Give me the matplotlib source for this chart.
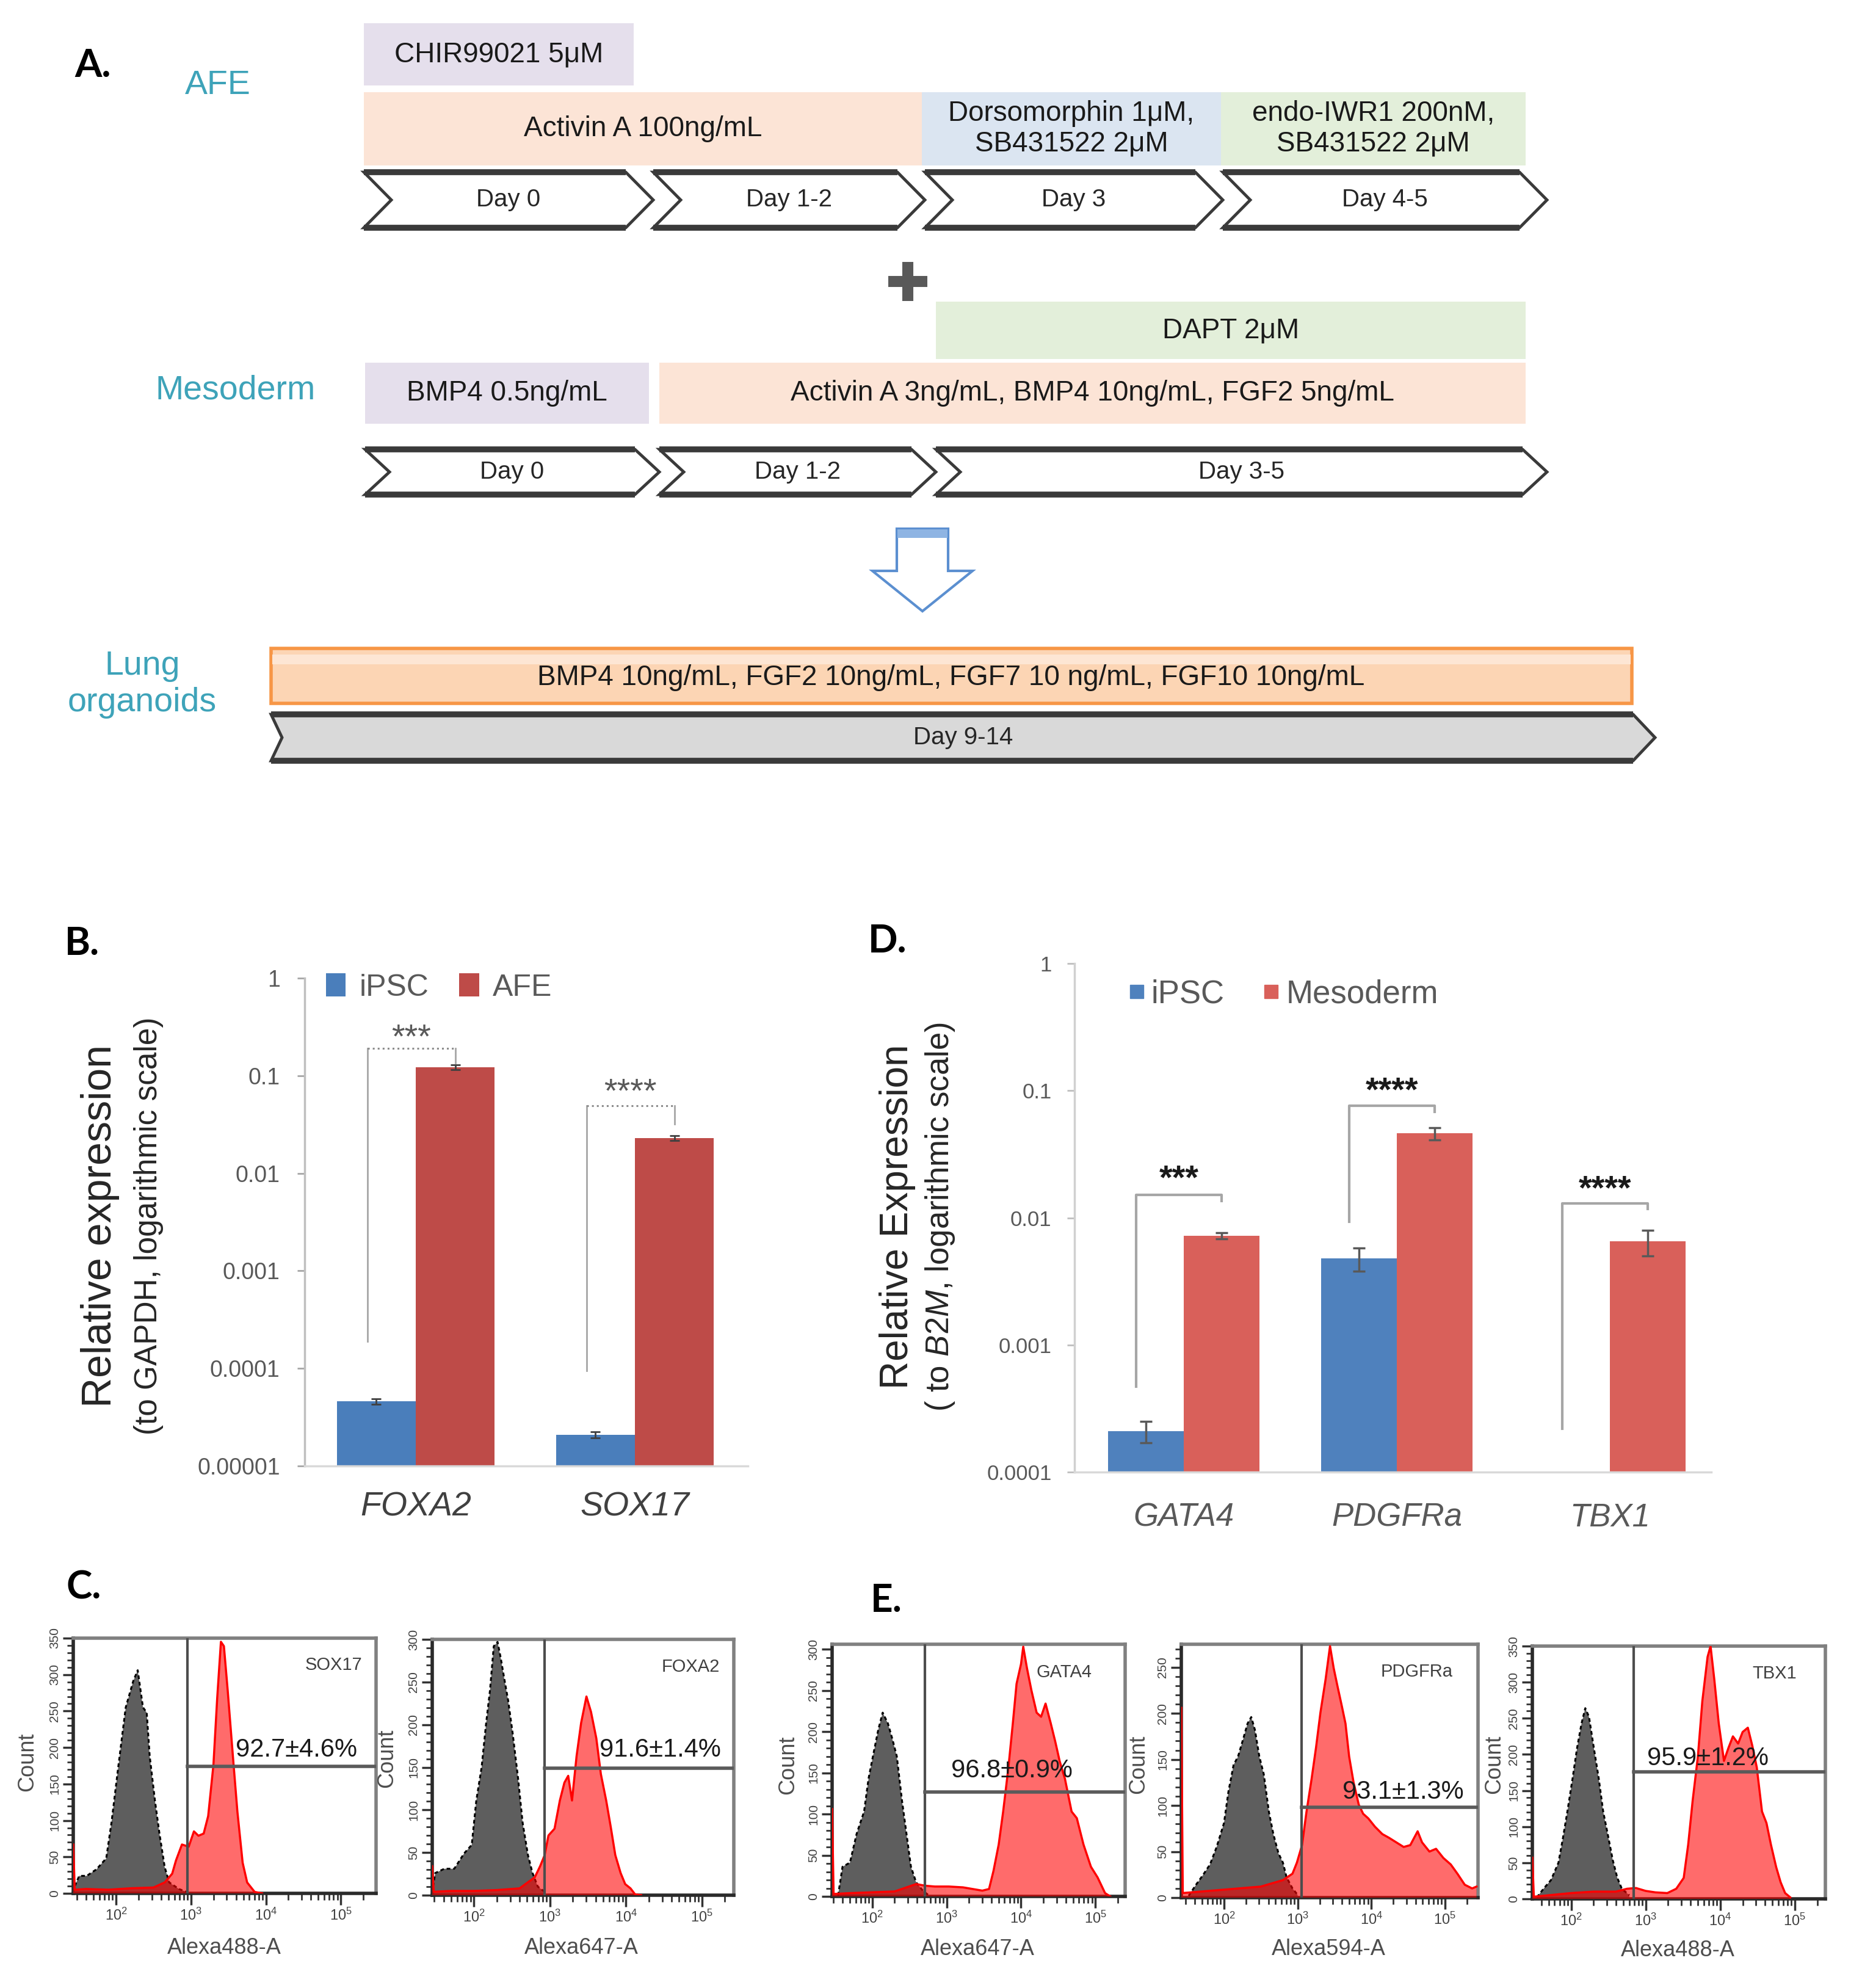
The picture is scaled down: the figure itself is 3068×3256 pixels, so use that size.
import numpy as np
import matplotlib

matplotlib.use("Agg")
import matplotlib.pyplot as plt
from matplotlib.patches import Polygon, Rectangle, Patch
from matplotlib.lines import Line2D
from matplotlib.ticker import LogLocator, NullFormatter, NullLocator, MultipleLocator, FixedLocator

plt.rcParams["font.family"] = ["Liberation Sans", "DejaVu Sans"]
plt.rcParams["mathtext.fontset"] = "custom"
plt.rcParams["mathtext.rm"] = "Liberation Sans"
plt.rcParams["mathtext.it"] = "Liberation Sans:italic"
plt.rcParams["mathtext.bf"] = "Liberation Sans:bold"

W, H = 3068, 3256

# ---------------- panel B: qPCR, AFE ----------------
b_genes = ["FOXA2", "SOX17"]
b_ipsc = [4.6e-5, 2.1e-5]
b_ipsc_err = [0.3e-5, 0.15e-5]
b_afe = [0.122, 0.023]
b_afe_err = [0.007, 0.0012]
b_stars = ["***", "****"]
b_star_y = [0.24, 0.066]
b_bracket_low = [1.9e-4, 9.4e-5]
b_bracket_top = [0.19, 0.049]
b_bracket_end = [0.135, 0.032]

# ---------------- panel D: qPCR, mesoderm ----------------
d_genes = ["GATA4", "PDGFRa", "TBX1"]
d_ipsc = [2.1e-4, 4.8e-3, np.nan]
d_ipsc_err = [0.4e-4, 1.0e-3, np.nan]
d_meso = [7.2e-3, 4.6e-2, 6.5e-3]
d_meso_err = [0.4e-3, 0.5e-2, 1.5e-3]
d_stars = ["***", "****", "****"]
d_star_y = [0.020, 0.098, 0.0165]
d_bracket_low = [4.7e-4, 9.3e-3, 2.2e-4]
d_bracket_top = [0.0152, 0.076, 0.013]
d_bracket_end = [0.0136, 0.068, 0.0117]

# ---------------- panels C/E: flow histograms (log10 intensity, count) ----------------
sox17_ctrl_x = [1.45, 1.51, 1.61, 1.74, 1.87, 1.94, 2.03, 2.13, 2.23, 2.29, 2.36, 2.41, 2.45, 2.52, 2.58, 2.65, 2.71, 2.84, 2.94]
sox17_ctrl_y = [10, 24, 24, 33, 48, 97, 173, 255, 291, 306, 255, 248, 188, 127, 82, 36, 15, 6, 2]
sox17_pos_x = [1.43, 1.45, 1.60, 1.90, 2.20, 2.50, 2.65, 2.75, 2.80, 2.88, 2.97, 3.04, 3.10, 3.17, 3.23, 3.30, 3.35, 3.40, 3.44, 3.49, 3.56, 3.62, 3.69, 3.75, 3.85, 3.95]
sox17_pos_y = [67, 5, 6, 5, 7, 8, 15, 27, 45, 67, 64, 85, 79, 82, 106, 176, 267, 345, 339, 279, 188, 112, 42, 15, 2, 0]

foxa2_ctrl_x = [1.46, 1.49, 1.61, 1.74, 1.87, 1.97, 2.03, 2.10, 2.16, 2.21, 2.26, 2.31, 2.35, 2.40, 2.45, 2.51, 2.58, 2.64, 2.71, 2.77, 2.84, 2.93]
foxa2_ctrl_y = [10, 26, 31, 31, 49, 59, 111, 150, 202, 240, 292, 297, 279, 253, 228, 189, 137, 85, 47, 26, 10, 4]
foxa2_pos_x = [1.45, 1.47, 1.70, 2.00, 2.30, 2.60, 2.80, 2.87, 2.93, 2.98, 3.06, 3.13, 3.19, 3.24, 3.29, 3.35, 3.41, 3.48, 3.54, 3.61, 3.67, 3.74, 3.80, 3.86, 3.93, 3.99, 4.06, 4.12, 4.20]
foxa2_pos_y = [34, 4, 5, 5, 6, 8, 21, 34, 47, 70, 78, 111, 132, 140, 111, 163, 202, 233, 215, 184, 142, 111, 80, 47, 26, 13, 8, 1, 0]

gata4_ctrl_x = [1.54, 1.60, 1.70, 1.79, 1.89, 1.95, 2.02, 2.08, 2.14, 2.21, 2.27, 2.33, 2.40, 2.46, 2.52, 2.59, 2.68, 2.75]
gata4_ctrl_y = [1, 36, 41, 76, 103, 143, 175, 202, 223, 210, 191, 170, 116, 76, 36, 17, 7, 2]
gata4_pos_x = [1.46, 1.48, 1.70, 2.00, 2.30, 2.59, 2.71, 2.84, 3.03, 3.22, 3.48, 3.57, 3.63, 3.70, 3.76, 3.83, 3.89, 3.94, 4.00, 4.03, 4.08, 4.14, 4.21, 4.27, 4.33, 4.40, 4.46, 4.52, 4.59, 4.68, 4.75, 4.84, 4.94, 5.03, 5.13, 5.20]
gata4_pos_y = [106, 3, 4, 5, 6, 15, 13, 12, 12, 11, 7, 9, 31, 63, 103, 156, 210, 258, 282, 303, 277, 250, 223, 218, 234, 210, 188, 164, 143, 103, 95, 63, 36, 23, 4, 0]

pdgfra_ctrl_x = [1.52, 1.62, 1.71, 1.81, 1.90, 2.00, 2.06, 2.13, 2.19, 2.26, 2.32, 2.37, 2.42, 2.48, 2.54, 2.61, 2.67, 2.74, 2.80, 2.85, 2.93, 3.00]
pdgfra_ctrl_y = [2, 14, 24, 36, 55, 81, 115, 144, 153, 172, 189, 196, 182, 153, 134, 93, 69, 48, 38, 22, 10, 3]
pdgfra_pos_x = [1.42, 1.44, 1.60, 1.90, 2.20, 2.50, 2.80, 2.93, 2.99, 3.06, 3.12, 3.19, 3.25, 3.31, 3.38, 3.44, 3.49, 3.54, 3.60, 3.65, 3.70, 3.76, 3.83, 3.89, 3.96, 4.05, 4.15, 4.24, 4.34, 4.44, 4.53, 4.63, 4.69, 4.79, 4.88, 4.98, 5.08, 5.17, 5.27, 5.37, 5.43]
pdgfra_pos_y = [206, 5, 6, 8, 10, 12, 19, 26, 38, 57, 93, 129, 163, 201, 237, 273, 249, 230, 208, 189, 153, 125, 101, 91, 86, 77, 69, 65, 60, 55, 57, 72, 60, 50, 53, 43, 36, 26, 14, 10, 12]

tbx1_ctrl_x = [1.54, 1.63, 1.73, 1.83, 1.89, 1.95, 2.02, 2.08, 2.14, 2.19, 2.24, 2.30, 2.37, 2.43, 2.49, 2.56, 2.62, 2.68, 2.78]
tbx1_ctrl_y = [2, 14, 26, 50, 84, 121, 167, 209, 243, 264, 252, 212, 167, 121, 90, 53, 29, 14, 5]
tbx1_pos_x = [1.48, 1.50, 1.70, 2.00, 2.30, 2.60, 2.75, 2.87, 3.00, 3.13, 3.29, 3.41, 3.51, 3.57, 3.63, 3.70, 3.76, 3.83, 3.87, 3.92, 3.98, 4.05, 4.11, 4.17, 4.24, 4.30, 4.37, 4.43, 4.49, 4.56, 4.62, 4.68, 4.75, 4.81, 4.87, 4.94]
tbx1_pos_y = [57, 3, 5, 8, 10, 10, 14, 15, 11, 9, 8, 14, 29, 75, 136, 197, 274, 335, 350, 304, 243, 191, 209, 225, 215, 231, 237, 212, 182, 121, 105, 75, 44, 23, 8, 2]

# marker, channel, percentage, gate (log10), horizontal gate (count), xlim (log10), ymax
flow_markers = ["SOX17", "FOXA2", "GATA4", "PDGFRa", "TBX1"]
flow_channels = ["Alexa488-A", "Alexa647-A", "Alexa647-A", "Alexa594-A", "Alexa488-A"]
flow_percent = ["92.7±4.6%", "91.6±1.4%", "96.8±0.9%", "93.1±1.3%", "95.9±1.2%"]
flow_gate_x = [2.95, 2.93, 2.71, 3.05, 2.84]
flow_gate_y = [174, 149, 127, 98, 176]
flow_xlim = [(1.43, 5.47), (1.45, 5.42), (1.46, 5.40), (1.42, 5.45), (1.48, 5.41)]
flow_ymax = [350, 300, 306, 275, 350]
flow_ctrl = [(sox17_ctrl_x, sox17_ctrl_y), (foxa2_ctrl_x, foxa2_ctrl_y), (gata4_ctrl_x, gata4_ctrl_y),
             (pdgfra_ctrl_x, pdgfra_ctrl_y), (tbx1_ctrl_x, tbx1_ctrl_y)]
flow_pos = [(sox17_pos_x, sox17_pos_y), (foxa2_pos_x, foxa2_pos_y), (gata4_pos_x, gata4_pos_y),
            (pdgfra_pos_x, pdgfra_pos_y), (tbx1_pos_x, tbx1_pos_y)]

# pixel layout of the flow boxes (left, top, right, bottom) and text anchors
flow_boxes = [(120, 2683, 616, 3101), (708, 2685, 1202, 3104), (1363, 2693, 1843, 3106),
              (1935, 2693, 2421, 3108), (2510, 2696, 2990, 3110)]
flow_marker_xy = [(547, 2727), (1131, 2730), (1743, 2739), (2321, 2738), (2907, 2741)]
flow_pct_xy = [(485, 2866), (1081, 2866), (1657, 2900), (2298, 2935), (2797, 2880)]
flow_chan_xy = [(367, 3190), (952, 3190), (1601, 3192), (2176, 3192), (2748, 3194)]
flow_count_xy = [(45, 2886), (634, 2880), (1291, 2891), (1865, 2890), (2448, 2890)]

BLUE_B, RED_B = "#4a7ebb", "#be4b48"
BLUE_D, RED_D = "#4f81bd", "#d9605a"
TEAL = "#3ea3b9"
LAVENDER, PEACH, LBLUE, LGREEN = "#e5dfec", "#fce4d6", "#dbe5f1", "#e3efda"


def fig_rect(left, top, right, bottom):
    return [left / W, 1 - bottom / H, (right - left) / W, (bottom - top) / H]


def frac(box, x, y):
    left, top, right, bottom = box
    return (x - left) / (right - left), (bottom - y) / (bottom - top)


fig = plt.figure(figsize=(W / 100, H / 100), dpi=100)

# ---------------- overlay for the schematic (pixel coordinates) ----------------
ax0 = fig.add_axes([0, 0, 1, 1])
ax0.set_xlim(0, W)
ax0.set_ylim(H, 0)
ax0.axis("off")


def box(x0, x1, y0, y1, color, label, fs=33):
    ax0.add_patch(Rectangle((x0, y0), x1 - x0, y1 - y0, facecolor=color, edgecolor="none"))
    ax0.text((x0 + x1) / 2, (y0 + y1) / 2, label, ha="center", va="center",
             fontsize=fs, color="#1a1a1a", linespacing=1.15)


def chevron(x0, x1, y0, y1, label, d_left=45, d_right=45, face="white", fs=29):
    ym = (y0 + y1) / 2
    pts = [(x0, y0), (x1 - d_right, y0), (x1, ym), (x1 - d_right, y1), (x0, y1), (x0 + d_left, ym)]
    ax0.add_patch(Polygon(pts, closed=True, facecolor=face, edgecolor="#3a3a3a",
                          linewidth=3.5, joinstyle="miter"))
    ax0.plot([x0, x1 - d_right], [y0, y0], color="#3a3a3a", lw=7, solid_capstyle="butt")
    ax0.plot([x0, x1 - d_right], [y1, y1], color="#3a3a3a", lw=7, solid_capstyle="butt")
    ax0.text((x0 + x1) / 2, ym, label, ha="center", va="center", fontsize=fs, color="#262626")


panel_font = dict(family=["Lato", "DejaVu Sans"], fontweight="bold", fontsize=46, ha="center", va="center")
ax0.text(152, 107, "A.", **panel_font)
ax0.text(134, 1546, "B.", **panel_font)
ax0.text(137, 2600, "C.", **panel_font)
ax0.text(1454, 1541, "D.", **panel_font)
ax0.text(1452, 2621, "E.", **panel_font)

ax0.text(357, 140, "AFE", color=TEAL, fontsize=40, ha="center", va="center")
ax0.text(386, 640, "Mesoderm", color=TEAL, fontsize=40, ha="center", va="center")
ax0.text(233, 1121, "Lung\norganoids", color=TEAL, fontsize=40, ha="center", va="center", linespacing=1.2)

box(596, 1038, 38, 140, LAVENDER, "CHIR99021 5μM")
box(596, 1510, 151, 271, PEACH, "Activin A 100ng/mL")
box(1510, 2000, 151, 271, LBLUE, "Dorsomorphin 1μM,\nSB431522 2μM")
box(2000, 2499, 151, 271, LGREEN, "endo-IWR1 200nM,\nSB431522 2μM")
for (x0, x1), lab in zip([(596, 1070), (1070, 1515), (1515, 2003), (2003, 2534)],
                         ["Day 0", "Day 1-2", "Day 3", "Day 4-5"]):
    chevron(x0, x1, 282, 373, lab)

ax0.plot([1455, 1519], [461, 461], color="#595959", lw=13, solid_capstyle="butt")
ax0.plot([1487, 1487], [429, 493], color="#595959", lw=13, solid_capstyle="butt")

box(1533, 2499, 494, 588, LGREEN, "DAPT 2μM")
box(598, 1063, 594, 694, LAVENDER, "BMP4 0.5ng/mL")
box(1080, 2499, 594, 694, PEACH, "Activin A 3ng/mL, BMP4 10ng/mL, FGF2 5ng/mL")
for (x0, x1), lab in zip([(598, 1080), (1080, 1533), (1533, 2534)], ["Day 0", "Day 1-2", "Day 3-5"]):
    chevron(x0, x1, 736, 810, lab, d_left=40, d_right=40)

arrow_pts = [(1469, 866), (1553, 866), (1553, 935), (1593, 935), (1511, 1001), (1429, 935), (1469, 935)]
ax0.add_patch(Polygon(arrow_pts, closed=True, facecolor="white", edgecolor="#5b8fd0", linewidth=3))
ax0.add_patch(Rectangle((1470, 867), 82, 14, facecolor="#8eb4e3", edgecolor="none"))

ax0.add_patch(Rectangle((444, 1062), 2229, 90, facecolor="#fcd5b4", edgecolor="#f79646", linewidth=4))
ax0.add_patch(Rectangle((446, 1072), 2225, 16, facecolor="#fde6d4", edgecolor="none"))
ax0.text(1558, 1110, "BMP4 10ng/mL, FGF2 10ng/mL, FGF7 10 ng/mL, FGF10 10ng/mL",
         ha="center", va="center", fontsize=33, color="#1a1a1a")
chevron(444, 2711, 1170, 1246, "Day 9-14", d_left=18, d_right=36, face="#d9d9d9")

# ---------------- panel B ----------------
axB = fig.add_axes(fig_rect(499, 1602, 1225, 2401))
xb = np.arange(len(b_genes))
wb = 0.36
axB.bar(xb - wb / 2, b_ipsc, wb, color=BLUE_B, yerr=b_ipsc_err,
        error_kw=dict(ecolor="#404040", elinewidth=2, capsize=6, capthick=2))
axB.bar(xb + wb / 2, b_afe, wb, color=RED_B, yerr=b_afe_err,
        error_kw=dict(ecolor="#404040", elinewidth=2, capsize=6, capthick=2))
axB.set_yscale("log")
axB.set_ylim(1e-5, 1)
axB.set_xlim(-0.507, 1.515)
b_ticks = [1e-5, 1e-4, 1e-3, 1e-2, 1e-1, 1]
axB.yaxis.set_major_locator(FixedLocator(b_ticks))
axB.yaxis.set_minor_locator(NullLocator())
axB.set_yticklabels(["0.00001", "0.0001", "0.001", "0.01", "0.1", "1"])
axB.tick_params(axis="y", length=9, width=2, color="#a6a6a6", labelsize=27, labelcolor="#595959", pad=20)
axB.set_xticks(xb)
axB.set_xticklabels(b_genes, fontstyle="italic", fontsize=40, color="#404040")
axB.tick_params(axis="x", length=0, pad=30)
for s in ["top", "right"]:
    axB.spines[s].set_visible(False)
axB.spines["left"].set_color("#bfbfbf")
axB.spines["bottom"].set_color("#d9d9d9")
axB.spines["left"].set_linewidth(2.5)
axB.spines["bottom"].set_linewidth(2.5)
for i in range(len(b_genes)):
    xl, xr = i - 0.22, i + wb / 2
    axB.plot([xl, xl], [b_bracket_low[i], b_bracket_top[i]], color="#a6a6a6", lw=2)
    axB.plot([xl, xr], [b_bracket_top[i], b_bracket_top[i]], color="#8c8c8c", lw=2.2, ls=":")
    axB.plot([xr, xr], [b_bracket_top[i], b_bracket_end[i]], color="#a6a6a6", lw=2)
    axB.text((xl + xr) / 2, b_star_y[i], b_stars[i], ha="center", va="center",
             fontsize=40, color="#595959")
axB.legend([Patch(facecolor=BLUE_B), Patch(facecolor=RED_B)], ["iPSC", "AFE"],
           loc="upper left", bbox_to_anchor=(0.02, 1.035), ncol=2, frameon=False, fontsize=36,
           handlelength=0.65, handleheight=0.8, handletextpad=0.45, columnspacing=1.0,
           borderaxespad=0, labelcolor="#595959")
ax0.text(164, 2008, "Relative expression", rotation=90, ha="center", va="center", fontsize=49, color="#262626")
ax0.text(243, 2008, "(to GAPDH, logarithmic scale)", rotation=90, ha="center", va="center",
         fontsize=37, color="#262626")

# ---------------- panel D ----------------
axD = fig.add_axes(fig_rect(1760, 1578, 2803, 2411))
xd = np.arange(len(d_genes))
wd = 0.355
ipsc_ok = ~np.isnan(np.array(d_ipsc))
axD.bar(xd[ipsc_ok] - wd / 2, np.array(d_ipsc)[ipsc_ok], wd, color=BLUE_D,
        yerr=np.array(d_ipsc_err)[ipsc_ok],
        error_kw=dict(ecolor="#595959", elinewidth=2.5, capsize=7, capthick=2.5))
axD.bar(xd + wd / 2, d_meso, wd, color=RED_D, yerr=d_meso_err,
        error_kw=dict(ecolor="#595959", elinewidth=2.5, capsize=7, capthick=2.5))
axD.set_yscale("log")
axD.set_ylim(1e-4, 1)
axD.set_xlim(-0.513, 2.476)
d_ticks = [1e-4, 1e-3, 1e-2, 1e-1, 1]
axD.yaxis.set_major_locator(FixedLocator(d_ticks))
axD.yaxis.set_minor_locator(NullLocator())
axD.set_yticklabels(["0.0001", "0.001", "0.01", "0.1", "1"])
axD.tick_params(axis="y", length=9, width=2, color="#bfbfbf", labelsize=25, labelcolor="#595959", pad=18)
axD.set_xticks(xd)
axD.set_xticklabels(d_genes, fontstyle="italic", fontsize=38, color="#595959")
axD.tick_params(axis="x", length=0, pad=36)
for s in ["top", "right"]:
    axD.spines[s].set_visible(False)
axD.spines["left"].set_color("#d0d0d0")
axD.spines["bottom"].set_color("#d9d9d9")
axD.spines["left"].set_linewidth(2.5)
axD.spines["bottom"].set_linewidth(2.5)
for i in range(len(d_genes)):
    xl, xr = i - 0.224, i + wd / 2
    axD.plot([xl, xl, xr, xr], [d_bracket_low[i], d_bracket_top[i], d_bracket_top[i], d_bracket_end[i]],
             color="#a6a6a6", lw=3)
    axD.text((xl + xr) / 2, d_star_y[i], d_stars[i], ha="center", va="center",
             fontsize=40, fontweight="bold", color="#1a1a1a")
axD.legend([Line2D([], [], marker="s", ls="none", color=BLUE_D, markersize=16),
            Line2D([], [], marker="s", ls="none", color=RED_D, markersize=16)],
           ["iPSC", "Mesoderm"], loc="upper left", bbox_to_anchor=(0.065, 0.995), ncol=2,
           frameon=False, fontsize=38, handlelength=0.5, handletextpad=0.2, columnspacing=1.2,
           borderaxespad=0, labelcolor="#595959")
ax0.text(1470, 1993, "Relative Expression", rotation=90, ha="center", va="center", fontsize=46, color="#262626")
ax0.text(1540, 1993, r"( to $\mathit{B2M}$, logarithmic scale)", rotation=90, ha="center", va="center",
         fontsize=38, color="#262626")

# ---------------- panels C and E: flow histograms ----------------
for k in range(len(flow_markers)):
    bx = flow_boxes[k]
    ax = fig.add_axes(fig_rect(*bx))
    cx, cy = flow_ctrl[k]
    px_, py_ = flow_pos[k]
    cxv = np.power(10.0, cx)
    pxv = np.power(10.0, px_)
    ax.fill_between(cxv, 0, cy, facecolor="#5e5e5e", edgecolor="none", zorder=2)
    ax.plot(cxv, cy, color="black", lw=2.2, ls=(0, (2, 1.5)), zorder=3)
    ax.fill_between(pxv, 0, py_, facecolor=(1, 0, 0, 0.58), edgecolor="none", zorder=4)
    ax.plot(pxv, py_, color="#ff0000", lw=2.5, zorder=5)
    lo, hi = flow_xlim[k]
    ax.set_xscale("log")
    ax.set_xlim(10 ** lo, 10 ** hi)
    ax.set_ylim(0, flow_ymax[k])
    gx = 10 ** flow_gate_x[k]
    ax.axvline(gx, color="#4d4d4d", lw=3, zorder=6)
    ax.plot([gx, 10 ** hi], [flow_gate_y[k], flow_gate_y[k]], color="#5a5a5a", lw=4, zorder=6)
    ax.xaxis.set_major_locator(FixedLocator([1e2, 1e3, 1e4, 1e5]))
    ax.set_xticklabels([r"$10^{2}$", r"$10^{3}$", r"$10^{4}$", r"$10^{5}$"])
    ax.xaxis.set_minor_locator(LogLocator(base=10, subs=np.arange(2, 10)))
    ax.xaxis.set_minor_formatter(NullFormatter())
    ax.yaxis.set_major_locator(MultipleLocator(50))
    ax.yaxis.set_minor_locator(MultipleLocator(10))
    ax.tick_params(axis="x", which="major", direction="out", length=14, width=2.5, color="#333333",
                   labelsize=17, labelcolor="#404040", pad=3)
    ax.tick_params(axis="x", which="minor", direction="out", length=8, width=2, color="#333333")
    ax.tick_params(axis="y", which="major", direction="out", length=12, width=2.5, color="#333333",
                   labelsize=15, labelcolor="#404040", labelrotation=90, pad=3)
    ax.tick_params(axis="y", which="minor", direction="out", length=7, width=2, color="#333333")
    for lab in ax.get_yticklabels():
        lab.set_va("center")
    for s in ["top", "right"]:
        ax.spines[s].set_color("#808080")
        ax.spines[s].set_linewidth(4)
    for s in ["left", "bottom"]:
        ax.spines[s].set_color("#2a2a2a")
        ax.spines[s].set_linewidth(4)
    ax.text(*frac(bx, *flow_marker_xy[k]), flow_markers[k], transform=ax.transAxes,
            ha="center", va="center", fontsize=21, color="#404040", zorder=8)
    ax.text(*frac(bx, *flow_pct_xy[k]), flow_percent[k], transform=ax.transAxes,
            ha="center", va="center", fontsize=30, color="#1a1a1a", zorder=8)
    ax.text(*frac(bx, *flow_chan_xy[k]), flow_channels[k], transform=ax.transAxes,
            ha="center", va="center", fontsize=26, color="#4d4d4d")
    ax.text(*frac(bx, *flow_count_xy[k]), "Count", transform=ax.transAxes, rotation=90,
            ha="center", va="center", fontsize=26, color="#4d4d4d")

fig.savefig("out.png", dpi=100)
